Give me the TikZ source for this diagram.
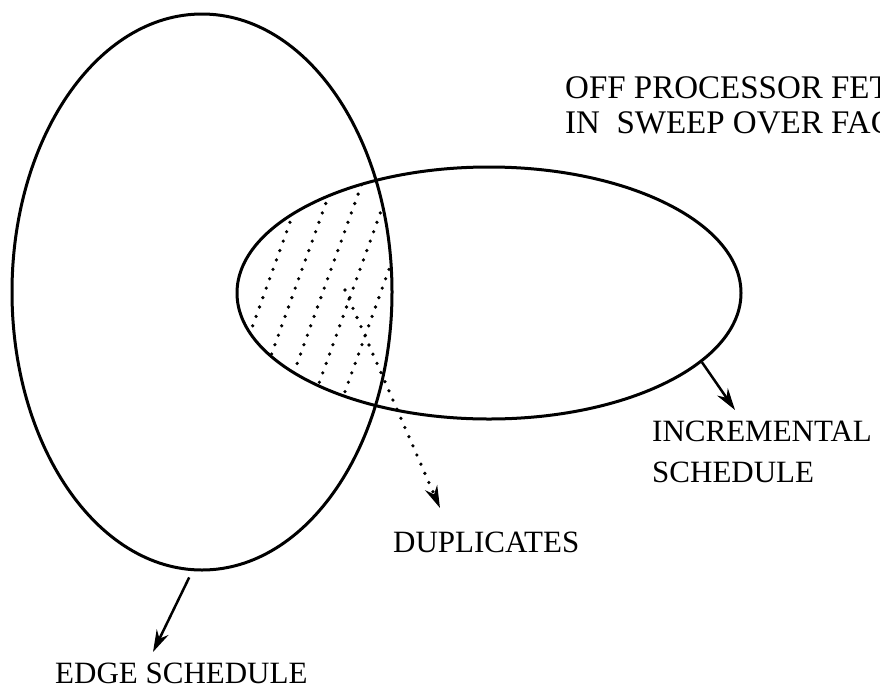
\documentclass[tikz,border=0pt]{standalone}
\usepackage{fontspec}
\setmainfont{Liberation Serif}
\usetikzlibrary{arrows.meta,shapes.geometric}

\begin{document}
\begin{tikzpicture}[
    x=1pt, y=-1pt,
    set/.style={draw, ellipse, line width=3pt, inner sep=0},
    pointer/.style={-{Stealth[length=22pt,width=13pt]}, line width=2.5pt},
    dots/.style={line width=3.6pt, line cap=round, dash pattern=on 0pt off 10pt},
    caption/.style={inner sep=0, font={\fontsize{31}{41}\selectfont}, align=left, anchor=north west}
  ]
  \useasboundingbox (0,0) rectangle (880,691);

  % The two schedules
  \node[set, minimum width=380pt, minimum height=556pt] (edgeset) at (202,292) {};
  \node[set, minimum width=504pt, minimum height=252pt] (incset) at (489,293) {};

  % Dotted hatching of the overlap
  \begin{scope}
    \clip (202,292) ellipse [x radius=190, y radius=278];
    \clip (489,293) ellipse [x radius=252, y radius=126];
    \foreach \x in {262,291,320,349,378}
      \draw[dots] (\x+72,100) -- (\x-72,500);
  \end{scope}

  % Free ends of the pointers
  \coordinate (edgetip) at (153,652);
  \coordinate (inctip) at (735,410);
  \coordinate (dupfrom) at (345,290);
  \coordinate (duptip) at (440,508);

  \draw[pointer, shorten <=7pt] (edgeset.-92) -- (edgetip);
  \draw[pointer] (incset.-18.5) -- (inctip);
  \draw[pointer, dots] (dupfrom) -- (duptip);

  % Captions
  \node[caption] (edgecap) at (55,663) {EDGE SCHEDULE};
  \node[caption] (inccap) at (652,421) {INCREMENTAL\\SCHEDULE};
  \node[caption] (dupcap) at (393,532) {DUPLICATES};
  \node[caption, font={\fontsize{33}{35}\selectfont}] (fetchcap) at (565,76)
    {OFF PROCESSOR FETCHES\\IN\ \ SWEEP OVER FACES};
\end{tikzpicture}
\end{document}
